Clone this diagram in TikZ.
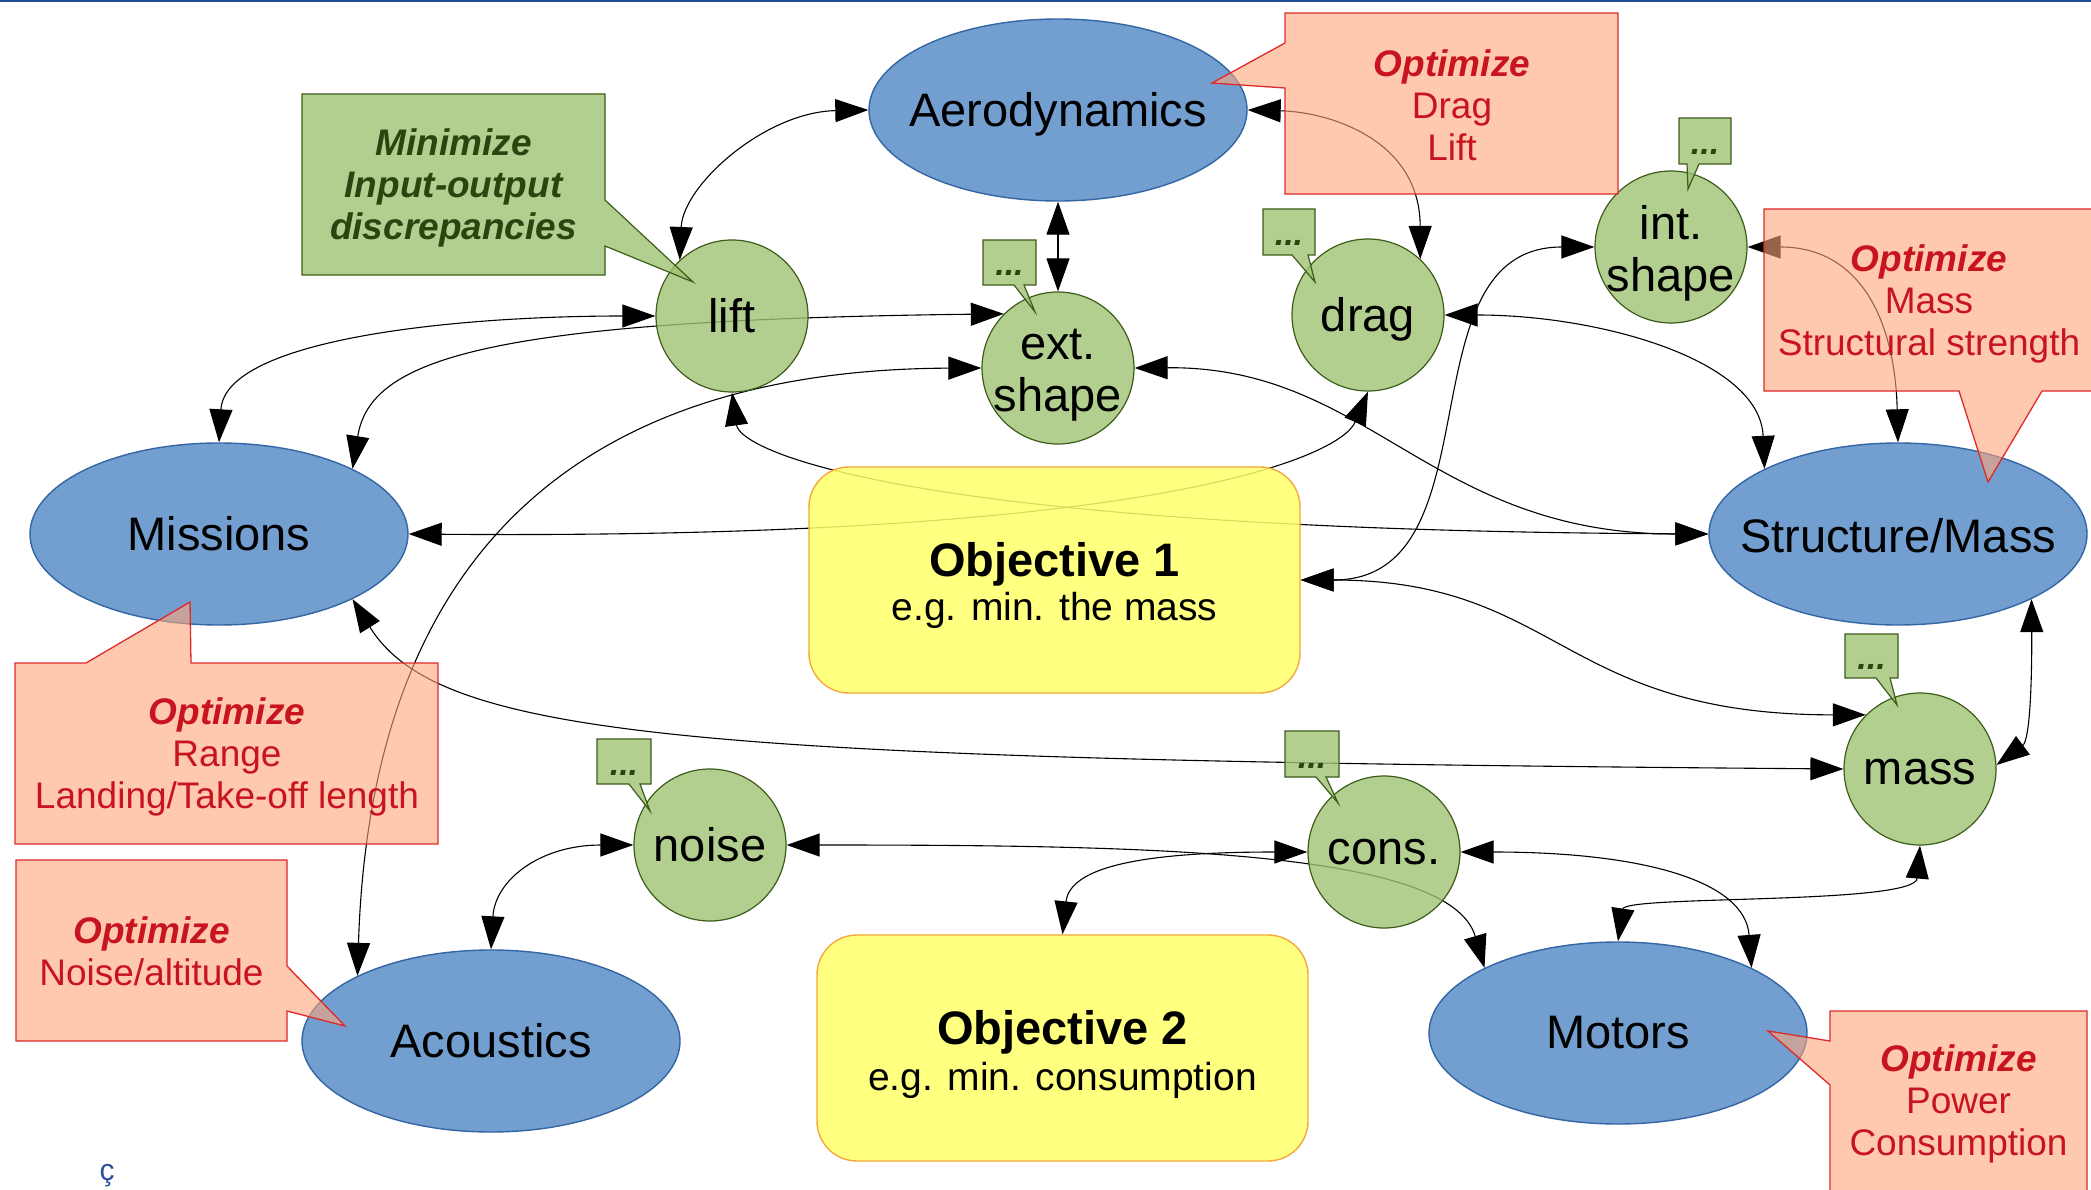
\documentclass[tikz,border=0pt]{standalone}
\usepackage{fontspec}
\setmainfont{Liberation Sans}
\usetikzlibrary{shapes.geometric,arrows.meta}

\pgfdeclarelayer{paper}
\pgfdeclarelayer{wires}
\pgfsetlayers{paper,wires,main}

\definecolor{bluefill}{HTML}{729FCF}
\definecolor{blueline}{HTML}{3465A4}
\definecolor{greenfill}{HTML}{9FC373}
\definecolor{greenline}{HTML}{3D5C1A}
\definecolor{greentext}{HTML}{2B4510}
\definecolor{yellowfill}{HTML}{FFFF6A}
\definecolor{yellowline}{HTML}{F4A83A}
\definecolor{salmonfill}{HTML}{FFA57A}
\definecolor{redline}{HTML}{DD2A2A}
\definecolor{redtext}{HTML}{C8141E}
\definecolor{topbar}{HTML}{1B4F8F}
\definecolor{glyphblue}{HTML}{2C4F9E}

\newcommand\optword{\textbf{\textit{Optimize}}}

\tikzset{
  bluee/.style={ellipse, draw=blueline, fill=bluefill, line width=1.4pt,
    minimum width=378pt, minimum height=182pt, inner sep=0pt},
  greenc/.style={circle, draw=greenline, fill=greenfill, fill opacity=0.8,
    line width=1.2pt, minimum size=152pt, inner sep=0pt},
  nodetxt/.style={font=\fontsize{47}{52}\selectfont, align=center, inner sep=0pt},
  objbox/.style={rectangle, rounded corners=40pt, draw=yellowline, fill=yellowfill,
    fill opacity=0.85, line width=1.4pt, minimum width=491pt, minimum height=226pt,
    inner sep=0pt},
  objtitle/.style={font=\fontsize{47}{52}\selectfont\bfseries, anchor=base, inner sep=0pt},
  objsub/.style={font=\fontsize{39}{44}\selectfont, anchor=base, inner sep=0pt},
  callbox/.style={draw=redline, fill=salmonfill, fill opacity=0.6, line width=1.3pt},
  calltxt/.style={text=redtext, font=\fontsize{37}{42}\selectfont, align=center, inner sep=0pt},
  greenbox/.style={draw=greenline, fill=greenfill, fill opacity=0.8, line width=1.2pt},
  greentxt/.style={text=greentext, font=\fontsize{37}{42}\selectfont\bfseries\itshape,
    align=center, inner sep=0pt},
  ellipsistxt/.style={text=greentext, font=\fontsize{34}{40}\selectfont\bfseries\itshape,
    anchor=base, inner sep=0pt},
  wire/.style={draw=black, line width=1.1pt, <->, >={Triangle[length=33pt,width=23pt]}}
}

\begin{document}
\begin{tikzpicture}[x=1pt,y=-1pt]
\useasboundingbox (0,0) rectangle (2091,1190);
\begin{pgfonlayer}{paper}
  \fill[white] (0,0) rectangle (2091,1190);
  \fill[topbar] (0,0) rectangle (2091,2.5);
\end{pgfonlayer}

% disciplines
\node[bluee] (aero) at (1058,110) {};
\node[bluee] (missions) at (219,534) {};
\node[bluee] (struct) at (1898,534) {};
\node[bluee] (acoustics) at (491,1041) {};
\node[bluee] (motors) at (1618,1033) {};
\node[nodetxt] (aero-t) at (1058,114) {Aerodynamics};
\node[nodetxt] (missions-t) at (missions) {Missions};
\node[nodetxt] (struct-t) at (1898,536) {Structure/Mass};
\node[nodetxt] (acoustics-t) at (acoustics) {Acoustics};
\node[nodetxt] (motors-t) at (motors) {Motors};

% shared variables
\node[greenc] (lift) at (732,316) {};
\node[greenc] (ext) at (1058,368) {};
\node[greenc] (drag) at (1368,315) {};
\node[greenc] (ints) at (1671,247) {};
\node[greenc] (mass) at (1920,769) {};
\node[greenc] (noise) at (710,845) {};
\node[greenc] (cons) at (1384,852) {};
\node[nodetxt] (lift-t) at (lift) {lift};
\node[nodetxt] (ext-t) at (1058,375) {ext.\\shape};
\node[nodetxt] (drag-t) at (1368,319) {drag};
\node[nodetxt] (ints-t) at (1671,253) {int.\\shape};
\node[nodetxt] (mass-t) at (1920,772) {mass};
\node[nodetxt] (noise-t) at (noise) {noise};
\node[nodetxt] (cons-t) at (cons) {cons.};

% objectives
\node[objbox] (obj1) at (1054.5,580) {};
\node[objbox] (obj2) at (1062.5,1048) {};
\node[objtitle] (obj1-t) at (1054.5,576) {Objective 1};
\node[objsub] (obj1-s) at (1054.5,620) {e.g. min. the mass};
\node[objtitle] (obj2-t) at (1062.5,1044) {Objective 2};
\node[objsub] (obj2-s) at (1062.5,1090) {e.g. min. consumption};

% couplings
\begin{pgfonlayer}{wires}
  \draw[wire] (lift.133) .. controls (683,185) and (765,112) .. (aero.west);
  \draw[wire] (aero.south) -- (ext.north);
  \draw[wire] (aero.east) .. controls (1330,112) and (1420,140) .. (drag.47);
  \draw[wire] (lift.west) .. controls (450,316) and (225,340) .. (missions.north);
  \draw[wire] (missions.26) .. controls (370,360) and (480,320) .. (ext.135);
  \draw[wire] (lift.south) .. controls (740,450) and (900,530) .. (struct.west);
  \draw[wire] (missions.east) .. controls (1150,540) and (1340,458) .. (drag.south);
  \draw[wire] (ext.east) .. controls (1370,366) and (1430,534) .. (struct.west);
  \draw[wire] (drag.east) .. controls (1600,315) and (1760,360) .. (struct.154);
  \draw[wire] (ints.west) .. controls (1400,247) and (1500,580) .. (obj1.east);
  \draw[wire] (obj1.east) .. controls (1560,580) and (1560,715) .. (mass.135);
  \draw[wire] (ints.east) .. controls (1860,247) and (1895,320) .. (struct.north);
  \draw[wire] (struct.-26) .. controls (2032,680) and (2030,740) .. (mass.3);
  \draw[wire] (missions.-26) .. controls (440,740) and (700,760) .. (mass.west);
  \draw[wire] (acoustics.154) .. controls (368,640) and (500,370) .. (ext.west);
  \draw[wire] (acoustics.north) .. controls (495,880) and (540,845) .. (noise.west);
  \draw[wire] (noise.east) .. controls (1150,845) and (1450,850) .. (motors.154);
  \draw[wire] (cons.west) .. controls (1150,852) and (1070,865) .. (obj2.north);
  \draw[wire] (cons.east) .. controls (1640,852) and (1745,880) .. (motors.26);
  \draw[wire] (mass.south) .. controls (1915,905) and (1625,895) .. (motors.north);
\end{pgfonlayer}

% red call-outs
\path[callbox] (1285,13) -- (1618,13) -- (1618,194) -- (1285,194) -- (1285,88)
  -- (1212,83) -- (1285,43) -- cycle;
\node[calltxt] (aero-note) at (1452,105) {\optword\\Drag\\Lift};

\path[callbox] (15,663) -- (86,663) -- (190,602) -- (191,663) -- (438,663)
  -- (438,844) -- (15,844) -- cycle;
\node[calltxt] (missions-note) at (227,757) {\optword\\Range\\Landing/Take-off length};

\path[callbox] (16,860) -- (287,860) -- (287,966) -- (345,1026) -- (287,1011)
  -- (287,1041) -- (16,1041) -- cycle;
\node[calltxt] (acoustics-note) at (151.5,951) {\optword\\Noise/altitude};

\path[callbox] (1830,1011) -- (2087,1011) -- (2087,1200) -- (1830,1200) -- (1830,1085)
  -- (1768,1031) -- (1830,1041) -- cycle;
\node[calltxt] (motors-note) at (1958.5,1104) {\optword\\Power\\Consumption};

\path[callbox] (1764,209) -- (2100,209) -- (2100,391) -- (2042,391) -- (1988,482)
  -- (1959,391) -- (1764,391) -- cycle;
\node[calltxt] (struct-note) at (1929,304) {\optword\\Mass\\Structural strength};

% green call-outs
\path[greenbox] (302,94) -- (605,94) -- (605,200) -- (693,282) -- (605,246)
  -- (605,275) -- (302,275) -- cycle;
\node[greentxt] (lift-note) at (453.5,188) {Minimize\\Input-output\\discrepancies};

\path[greenbox] (983,240) -- (1036,240) -- (1036,285) -- (1024,285) -- (1035,312)
  -- (1014,285) -- (983,285) -- cycle;
\node[ellipsistxt] (ext-dots) at (1009.5,276) {...};

\path[greenbox] (1263,209) -- (1315,209) -- (1315,255) -- (1308,255) -- (1315,282)
  -- (1292,255) -- (1263,255) -- cycle;
\node[ellipsistxt] (drag-dots) at (1289,246) {...};

\path[greenbox] (1679,118) -- (1731,118) -- (1731,164) -- (1699,164) -- (1688,189)
  -- (1687,164) -- (1679,164) -- cycle;
\node[ellipsistxt] (ints-dots) at (1705,155) {...};

\path[greenbox] (597,739) -- (651,739) -- (651,784) -- (640,784) -- (650,811)
  -- (629,784) -- (597,784) -- cycle;
\node[ellipsistxt] (noise-dots) at (624,775) {...};

\path[greenbox] (1285,731) -- (1339,731) -- (1339,777) -- (1326,777) -- (1338,803)
  -- (1316,777) -- (1285,777) -- cycle;
\node[ellipsistxt] (cons-dots) at (1312,768) {...};

\path[greenbox] (1845,634) -- (1898,634) -- (1898,678) -- (1890,678) -- (1897,705)
  -- (1876,678) -- (1845,678) -- cycle;
\node[ellipsistxt] (mass-dots) at (1871.5,669) {...};

% stray glyph in the lower left corner
\node[text=glyphblue, font=\fontsize{30}{34}\selectfont, anchor=base, inner sep=0pt]
  (corner-mark) at (107,1180) {ç};
\end{tikzpicture}
\end{document}
